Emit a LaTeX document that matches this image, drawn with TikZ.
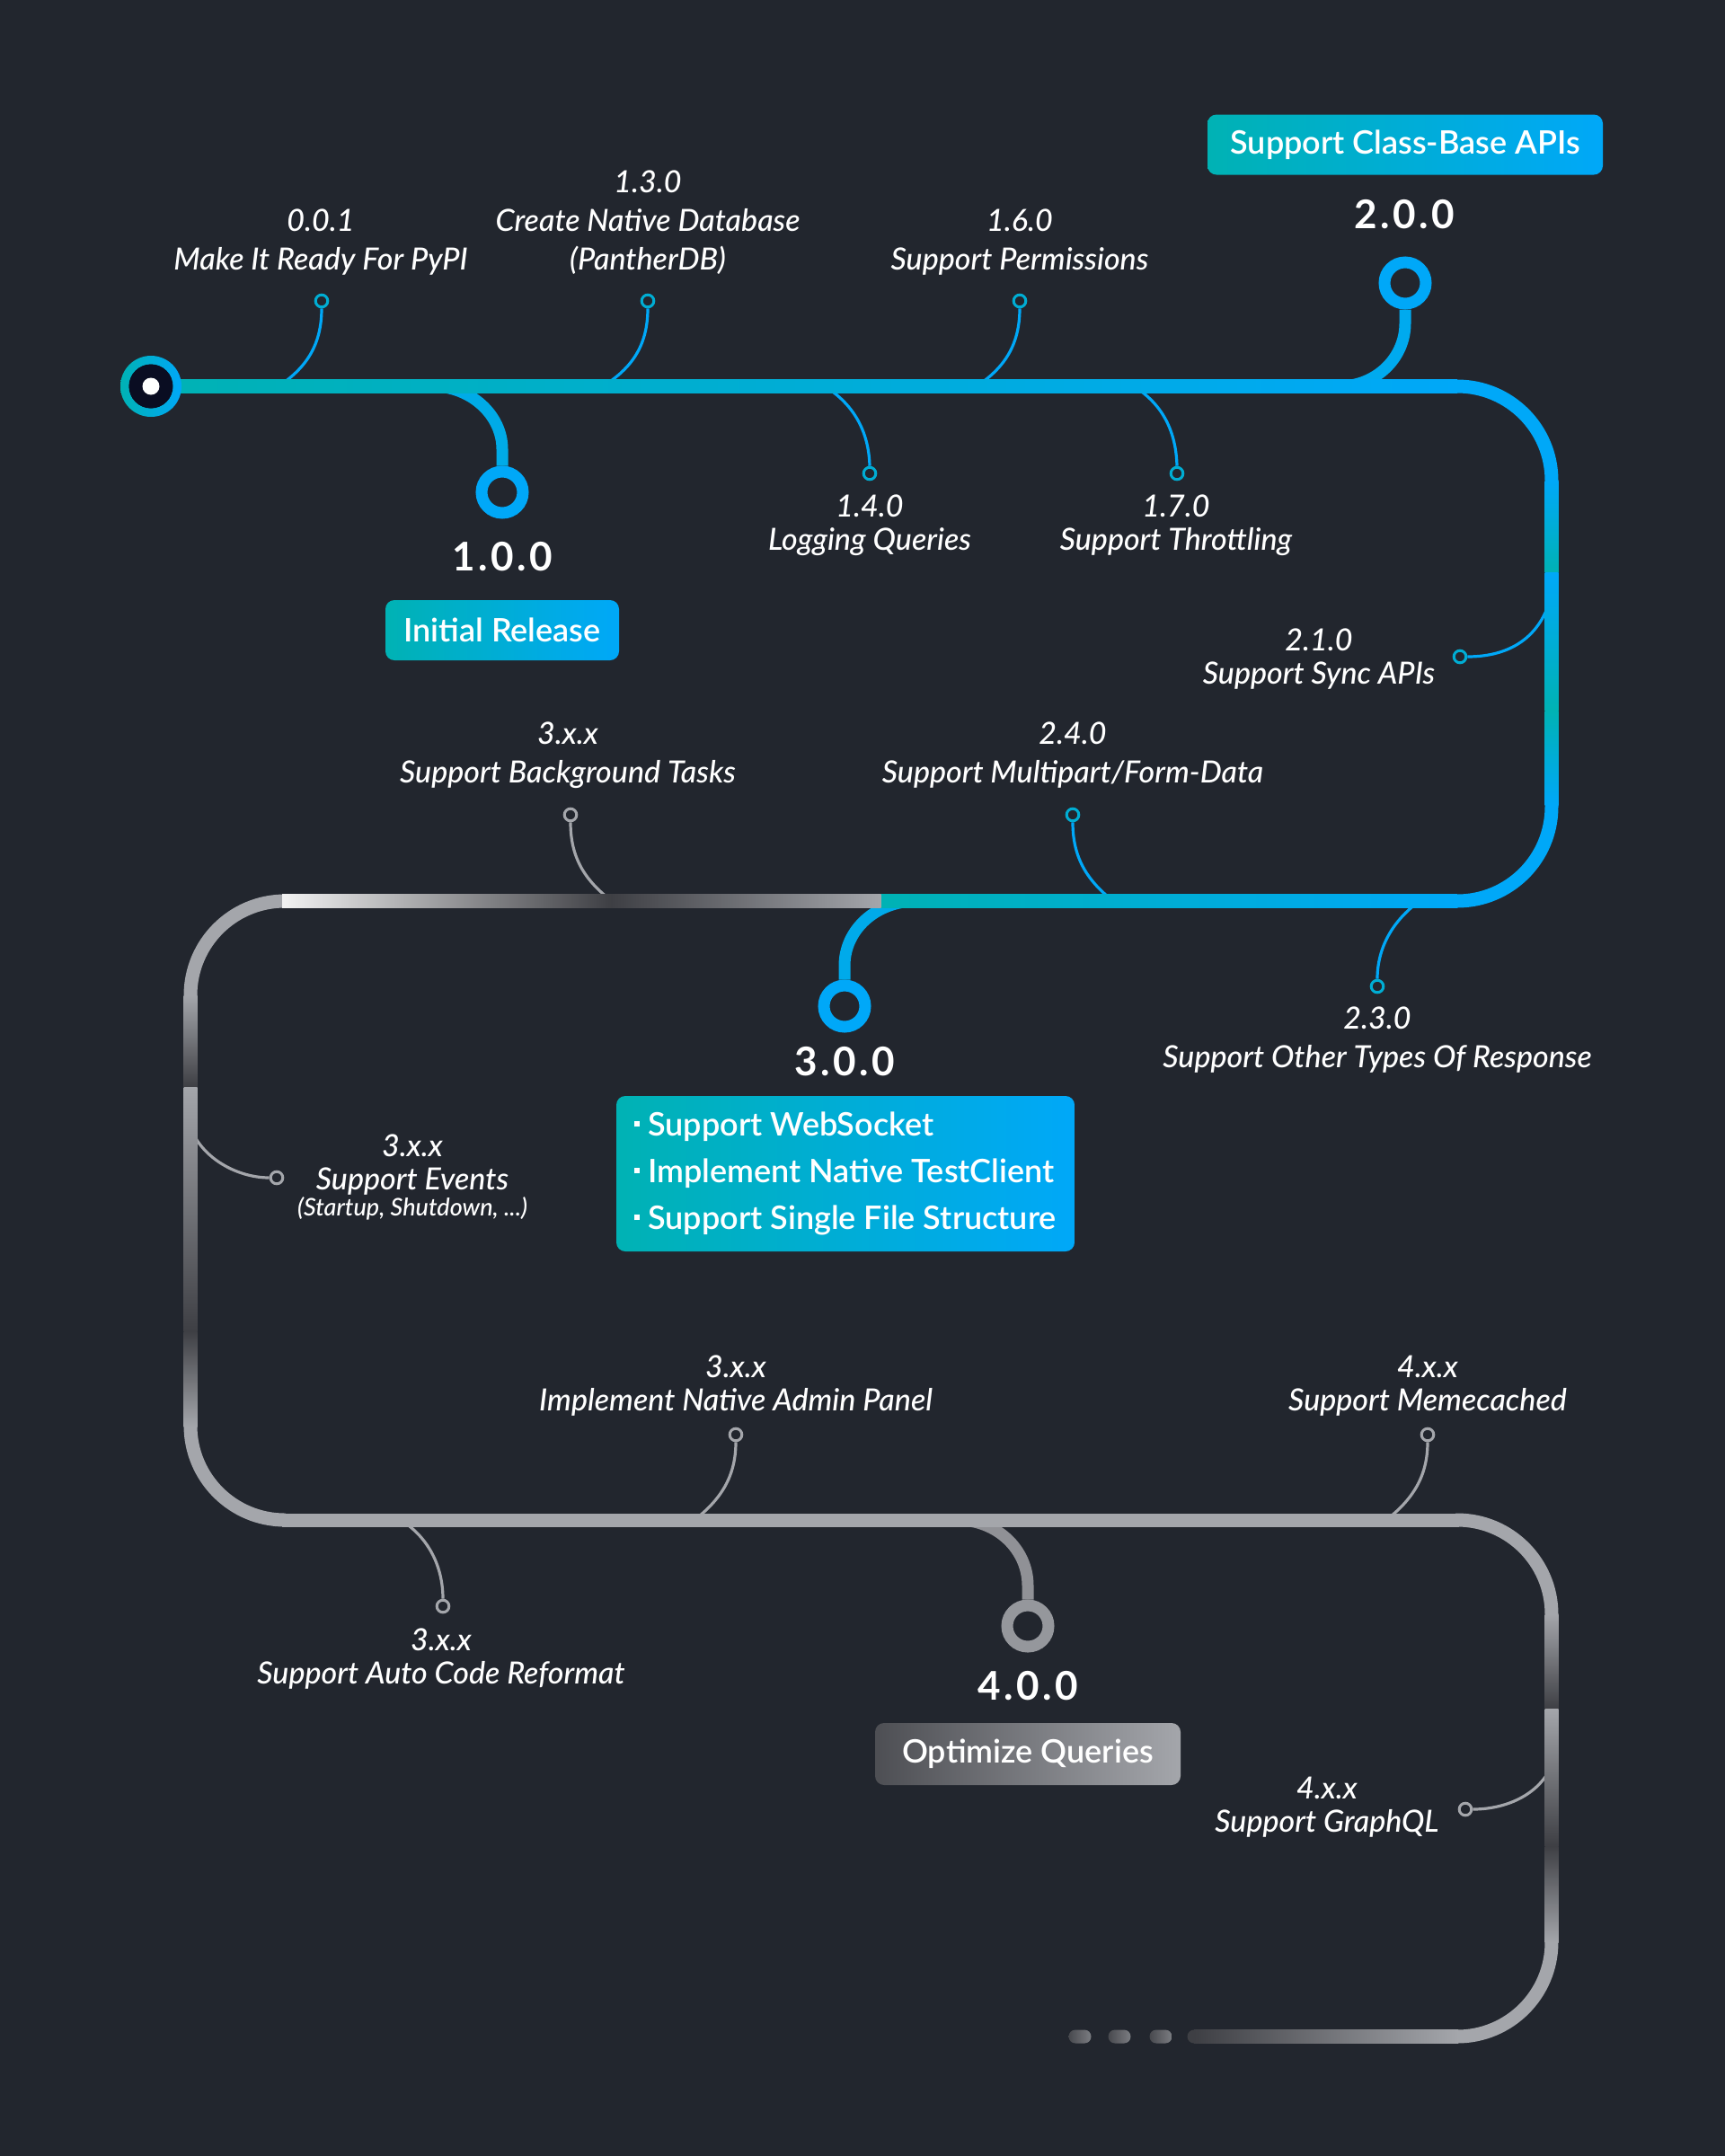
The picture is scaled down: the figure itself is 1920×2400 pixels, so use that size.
\documentclass[tikz,border=0pt]{standalone}
\usepackage{fontspec}
\setmainfont{Lato}[UprightFont=* Medium, ItalicFont=* Medium Italic, BoldFont=* Bold, BoldItalicFont=* Bold Italic]
\newfontfamily\semifont{Lato Semibold}

\definecolor{pbg}{HTML}{22262E}
\definecolor{pteal}{HTML}{00B2B4}
\definecolor{pblue}{HTML}{00A8F8}
\definecolor{pnavy}{HTML}{0A0D22}
\definecolor{gl}{HTML}{A4A6AB}
\definecolor{gd}{HTML}{3E3F44}
\definecolor{gw}{HTML}{F2F2F2}

\newcommand{\sqb}{\rule[0.28em]{3pt}{3pt}\hspace{0.25em}}

\tikzset{
  spine/.style={line width=7.5pt},
  stem/.style={line width=6.5pt},
  twig/.style={line width=1.6pt},
  dot/.style={circle, draw, line width=1.5pt, minimum size=6.8pt, inner sep=0pt, fill=pbg},
  ring/.style={circle, draw, line width=6.5pt, minimum size=23pt, inner sep=0pt, fill=pbg},
  lbl/.style={text=white, align=center, font=\fontsize{17}{21.5}\selectfont\itshape},
  lblt/.style={lbl, font=\fontsize{17}{18.5}\selectfont\itshape},
  big/.style={text=white, font=\fontsize{22}{26}\selectfont\bfseries\addfontfeature{LetterSpace=8}},
  tag/.style={text=white, rounded corners=5pt, inner sep=0pt, font=\fontsize{18}{26}\semifont},
}

\begin{document}
\begin{tikzpicture}[x=0.5pt,y=-0.5pt]
\fill[pbg] (0,0) rectangle (1920,2400);
\useasboundingbox (0,0) rectangle (1920,2400);

\coordinate (start) at (168,430);

% rings and dots
\node[ring, draw=pblue] (r100) at (559,548) {};
\node[ring, draw=pblue] (r200) at (1564,315) {};
\node[ring, draw=pblue] (r300) at (940,1120) {};
\node[ring, draw=gl!85!gd] (r400) at (1144,1810) {};

\node[dot, draw=pteal!55!pblue] (c01) at (358,335) {};
\node[dot, draw=pteal!55!pblue] (c13) at (721,335) {};
\node[dot, draw=pteal!55!pblue] (c16) at (1135,335) {};
\node[dot, draw=pteal!55!pblue] (c14) at (968,527) {};
\node[dot, draw=pteal!55!pblue] (c17) at (1310,527) {};
\node[dot, draw=pteal!55!pblue] (c21) at (1625,731) {};
\node[dot, draw=pteal!55!pblue] (c24) at (1194,907) {};
\node[dot, draw=pteal!55!pblue] (c23) at (1533,1098) {};
\node[dot, draw=gl] (cbg) at (635,907) {};
\node[dot, draw=gl] (cev) at (308,1311) {};
\node[dot, draw=gl] (cad) at (819,1597) {};
\node[dot, draw=gl] (car) at (493,1788) {};
\node[dot, draw=gl] (cmc) at (1589,1597) {};
\node[dot, draw=gl] (cgq) at (1631,2014) {};

% twigs
\draw[twig, pblue] (c01.south) .. controls (358,385) and (340,410) .. (310,430);
\draw[twig, pblue] (c13.south) .. controls (721,385) and (703,410) .. (671,430);
\draw[twig, pblue] (c16.south) .. controls (1135,385) and (1117,410) .. (1087,430);
\draw[twig, pblue] (918,430) .. controls (950,450) and (967,480) .. (c14.north);
\draw[twig, pblue] (1262,430) .. controls (1294,450) and (1309,480) .. (c17.north);
\draw[twig, pblue] (1727,662) .. controls (1715,710) and (1680,731) .. (c21.east);
\draw[twig, pblue] (c24.south) .. controls (1194,955) and (1210,980) .. (1239,1003);
\draw[twig, pblue] (1580,1003) .. controls (1550,1025) and (1533,1055) .. (c23.north);
\draw[twig, gl] (cbg.south) .. controls (635,955) and (651,980) .. (681,1003);
\draw[twig, gl] (212,1255) .. controls (225,1290) and (265,1311) .. (cev.west);
\draw[twig, gl] (cad.south) .. controls (819,1645) and (801,1670) .. (773,1692);
\draw[twig, gl] (446,1692) .. controls (478,1712) and (493,1745) .. (car.north);
\draw[twig, gl] (cmc.south) .. controls (1589,1645) and (1571,1670) .. (1543,1692);
\draw[twig, gl] (1727,1965) .. controls (1715,1995) and (1680,2014) .. (cgq.east);

% stems
\draw[stem, pblue!75!pteal] (482,430) .. controls (524,430) and (559,462) .. (559,500) -- (r100.north);
\draw[stem, pblue!85!pteal] (r200.south) -- (1564,360) .. controls (1564,398) and (1532,430) .. (1491,430);
\draw[stem, pblue!80!pteal] (1020,1003) .. controls (975,1003) and (940,1035) .. (940,1075) -- (r300.north);
\draw[stem, gl!80!gd] (1066,1692) .. controls (1110,1692) and (1144,1725) .. (1144,1765) -- (r400.north);

% corners
\draw[spine, pblue, rounded corners=52.5pt] (1620,430) -| (1727,537);
\draw[spine, pblue, rounded corners=52.5pt] (1727,894) |- (1620,1003);
\draw[spine, gl, rounded corners=52.5pt] (316,1003) -| (212,1110);
\draw[spine, gl, rounded corners=52.5pt] (212,1586) |- (318,1692);
\draw[spine, gl] (314,1692) -- (1624,1692);
\draw[spine, gl, rounded corners=52.5pt] (1620,1692) -| (1727,1799);
\draw[spine, gl, rounded corners=52.5pt] (1727,2160) |- (1620,2267);

% straight parts of the line
\shade[left color=pteal, right color=pblue] (168,422.5) rectangle (1622,437.5);
\shade[top color=pblue, bottom color=pteal] (1719.5,535) rectangle (1734.5,637);
\shade[top color=pblue, bottom color=pteal] (1719.5,637) rectangle (1734.5,791);
\shade[top color=pteal, bottom color=pblue] (1719.5,791) rectangle (1734.5,896);
\shade[left color=pteal, right color=pblue] (980,995.5) rectangle (1622,1010.5);
\shade[left color=gw, right color=gd] (314,995.5) rectangle (680,1010.5);
\shade[left color=gd, right color=gl] (680,995.5) rectangle (980.5,1010.5);
\shade[top color=gl, bottom color=gd] (204.5,1108) rectangle (219.5,1210);
\shade[top color=gl, bottom color=gd] (204.5,1210) rectangle (219.5,1482);
\shade[top color=gd, bottom color=gl] (204.5,1482) rectangle (219.5,1588);
\shade[top color=gl, bottom color=gd] (1719.5,1797) rectangle (1734.5,1902);
\shade[top color=gl, bottom color=gd] (1719.5,1902) rectangle (1734.5,2055);
\shade[top color=gd, bottom color=gl] (1719.5,2055) rectangle (1734.5,2162);
\fill[gd] (1329,2267) circle[radius=7.5];
\shade[left color=gd, right color=gl] (1329,2259.5) rectangle (1623,2274.5);
\foreach \x in {1202,1246,1292}
  \shade[left color=gd!90!gl, right color=gl!60!gd, rounded corners=3.7pt] (\x-12.5,2259.5) rectangle (\x+12.5,2274.5);

% start point
\shade[left color=pteal, right color=pblue, even odd rule] (start) circle[radius=34] (start) circle[radius=24.5];
\fill[pnavy] (start) circle[radius=24.5];
\fill[white] (start) circle[radius=9.5];

% labels
\node[lbl] (t01) at (357,269.5) {0.0.1\\Make It Ready For PyPI};
\node[lbl] (t13) at (721,248) {1.3.0\\Create Native Database\\(PantherDB)};
\node[lbl] (t16) at (1135,269.5) {1.6.0\\Support Permissions};
\node[lblt] (t14) at (968,584.5) {1.4.0\\Logging Queries};
\node[lblt] (t17) at (1309,584.5) {1.7.0\\Support Throttling};
\node[lblt] (t21) at (1468,733.5) {2.1.0\\Support Sync APIs};
\node[lbl] (tbg) at (632,840.5) {3.x.x\\Support Background Tasks};
\node[lbl] (t24) at (1194,840.5) {2.4.0\\Support Multipart/Form-Data};
\node[lbl] (t23) at (1533,1157.5) {2.3.0\\Support Other Types Of Response};
\node[lblt] (tev) at (459,1310) {3.x.x\\Support Events\\[-4pt]{\fontsize{13.5}{14}\selectfont(Startup, Shutdown, ...)}};
\node[lblt] (tad) at (819,1542.5) {3.x.x\\Implement Native Admin Panel};
\node[lblt] (tmc) at (1589,1542.5) {4.x.x\\Support Memecached};
\node[lblt] (tar) at (491,1846.5) {3.x.x\\Support Auto Code Reformat};
\node[lblt] (tgq) at (1477,2011.5) {4.x.x\\Support GraphQL};

\node[big] (v100) at (559,620) {1.0.0};
\node[big] (v200) at (1563,239) {2.0.0};
\node[big] (v300) at (940,1182) {3.0.0};
\node[big] (v400) at (1144,1877) {4.0.0};

\node[tag, left color=pteal, right color=pblue, minimum width=220pt, minimum height=33.5pt] (tcb) at (1564,161) {Support Class-Base APIs};
\node[tag, left color=pteal, right color=pblue, minimum width=130pt, minimum height=33.5pt] (tir) at (559,701.5) {Initial Release};
\node[tag, left color=pteal, right color=pblue, minimum width=255pt, minimum height=86.5pt, align=left] (t300) at (941,1306.5)
  {\sqb Support WebSocket\\ \sqb Implement Native TestClient\\ \sqb Support Single File Structure};
\node[tag, left color=gd!85!gl, right color=gl, minimum width=170pt, minimum height=34.5pt] (toq) at (1144,1952.5) {Optimize Queries};
\end{tikzpicture}
\end{document}
